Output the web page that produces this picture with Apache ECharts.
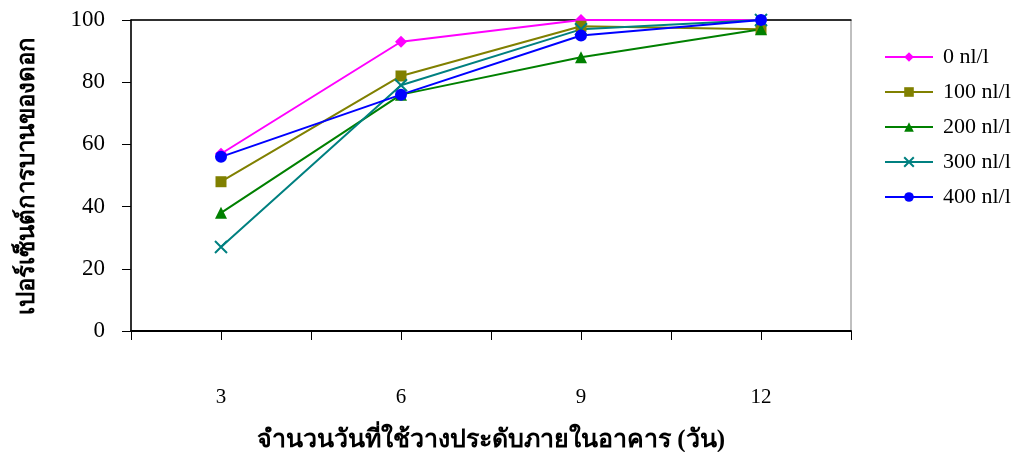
<!DOCTYPE html>
<html><head><meta charset="utf-8">
<script src="https://cdn.jsdelivr.net/npm/echarts@6/dist/echarts.min.js"></script>
<style>html,body{margin:0;padding:0;background:#fff;overflow:hidden}#c{width:1021px;height:452px}</style>
</head><body><div id="c"></div>
<script>
const days = [3, 6, 9, 12];
const seriesNames = ['0 nl/l', '100 nl/l', '200 nl/l', '300 nl/l', '400 nl/l'];
const s0 = [57, 93, 100, 100];
const s100 = [48, 82, 98, 97];
const s200 = [38, 76, 88, 97];
const s300 = [27, 79, 97, 100];
const s400 = [56, 76, 95, 100];
const yTicks = [0, 20, 40, 60, 80, 100];
const xTitle = 'จำนวนวันที่ใช้วางประดับภายในอาคาร (วัน)';
const yTitle = 'เปอร์เซ็นต์การบานของดอก';

const colors = ['#FF00FF', '#808000', '#008000', '#008080', '#0000FF'];
const symbols = ['diamond', 'rect', 'triangle', 'path://M0,0L10,10M10,0L0,10', 'circle'];
const sizes = [12, 11, 12, 12, 12];
const allData = [s0, s100, s200, s300, s400];
const serif = '"Liberation Serif","Times New Roman",serif';

const chart = echarts.init(document.getElementById('c'));
chart.setOption({
  animation: false,
  textStyle: { fontFamily: serif },
  grid: { left: 131, right: 170, top: 20, bottom: 121, outerBoundsMode: 'none', containLabel: false,
    show: true, borderColor: '#808080', borderWidth: 1 },
  legend: {
    orient: 'vertical', left: 879, top: 41, itemGap: 13, itemWidth: 48, itemHeight: 12,
    textStyle: { fontFamily: serif, fontSize: 22, color: '#000', padding: [0, 0, 0, 5] },
    data: seriesNames
  },
  xAxis: [{
    type: 'value', min: 1.5, max: 13.5, interval: 1.5,
    axisLine: { lineStyle: { color: '#000', width: 2 } },
    axisTick: { show: true, length: 9, lineStyle: { color: '#000' } },
    splitLine: { show: false },
    axisLabel: {
      margin: 56, fontSize: 21, color: '#000', fontFamily: serif,
      formatter: v => days.includes(v) ? String(v) : ''
    },
    name: xTitle, nameLocation: 'middle', nameGap: 97,
    nameTextStyle: { fontSize: 25, fontWeight: 'bold', color: '#000', fontFamily: serif }
  }, {
    type: 'value', position: 'top', min: 1.5, max: 13.5, interval: 1.5,
    axisLine: { show: true, lineStyle: { color: '#000', width: 1.5 } },
    axisTick: { show: false }, axisLabel: { show: false }, splitLine: { show: false }
  }],
  yAxis: {
    type: 'value', min: 0, max: 100, interval: 20,
    axisLine: { show: true, lineStyle: { color: '#000', width: 1.5 } },
    axisTick: { show: true, inside: false, length: 9, lineStyle: { color: '#000' } },
    splitLine: { show: false },
    axisLabel: { margin: 26, fontSize: 23, color: '#000', fontFamily: serif,
      formatter: v => yTicks.includes(v) ? String(v) : '' },
    name: yTitle, nameLocation: 'middle', nameGap: 91, nameRotate: 90,
    nameTextStyle: { fontSize: 24, fontWeight: 'bold', color: '#000', fontFamily: serif }
  },
  series: allData.map((d, i) => ({
    name: seriesNames[i], type: 'line',
    data: d.map((v, j) => [days[j], v]),
    symbol: symbols[i], symbolSize: sizes[i],
    color: colors[i],
    lineStyle: { color: colors[i], width: 2 },
    itemStyle: i === 3 ? { color: colors[i], borderColor: colors[i], borderWidth: 2 } : { color: colors[i] }
  }))
});
</script></body></html>
